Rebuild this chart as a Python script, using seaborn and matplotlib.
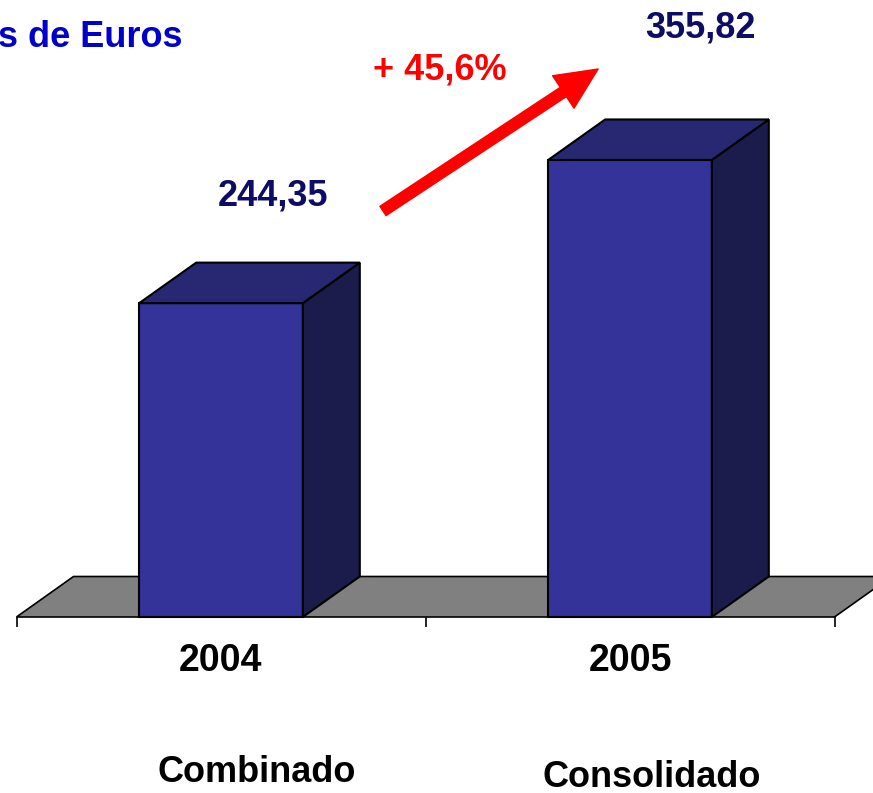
import matplotlib
matplotlib.use('Agg')
import matplotlib.pyplot as plt
import seaborn as sns
import pandas as pd
from matplotlib.patches import Polygon, FancyArrowPatch

# ---- data ----
categories = ['2004', '2005']
values = [244.35, 355.82]
value_labels = ['244,35', '355,82']
sublabels = ['Combinado', 'Consolidado']
growth_label = '+ 45,6%'
title_text = 's de Euros'

sns.set_theme(style='white')
plt.rcParams['font.family'] = ['Liberation Sans', 'DejaVu Sans']

W, H = 873, 793
fig = plt.figure(figsize=(W / 100, H / 100), dpi=100)
ax = fig.add_axes([0, 0, 1, 1])

df = pd.DataFrame({'year': categories, 'value': values})
sns.barplot(data=df, x='year', y='value', color='#333399', saturation=1,
            width=0.4, edgecolor='black', linewidth=1.5, ax=ax, zorder=3)

# pixel mapping: category spacing 409 px, category 0 centre at x=221, zero at y=617
px_per_cat = 409.0
px_per_unit = 1.2845
ax.set_xlim(-221 / px_per_cat, (W - 221) / px_per_cat)
ax.set_ylim((617 - H) / px_per_unit, 617 / px_per_unit)
ax.axis('off')

dx = 57 / px_per_cat
dy = 40.5 / px_per_unit

# floor
floor = Polygon([(-0.5, 0), (1.5, 0), (1.5 + dx, dy), (-0.5 + dx, dy)],
                closed=True, facecolor='#808080', edgecolor='black', lw=1.2, zorder=1)
ax.add_patch(floor)
# ticks
for t in [-0.5, 0.5, 1.5]:
    ax.plot([t, t], [0, -10 / px_per_unit], color='black', lw=1.2, zorder=2,
            solid_capstyle='butt')

# 3D faces for bars
for p in list(ax.patches):
    if p is floor:
        continue
    x0, w, h = p.get_x(), p.get_width(), p.get_height()
    side = Polygon([(x0 + w, 0), (x0 + w + dx, dy), (x0 + w + dx, h + dy), (x0 + w, h)],
                   closed=True, facecolor='#1c1c4c', edgecolor='black', lw=1.5, zorder=3)
    top = Polygon([(x0, h), (x0 + dx, h + dy), (x0 + w + dx, h + dy), (x0 + w, h)],
                  closed=True, facecolor='#272772', edgecolor='black', lw=1.5, zorder=3)
    ax.add_patch(side)
    ax.add_patch(top)

# value labels
val_dx = [0.127, 0.172]
val_dy = [83.4, 102.7]
for i, (v, lab) in enumerate(zip(values, value_labels)):
    ax.text(i + val_dx[i], v + val_dy[i], lab, ha='center', va='center',
            fontsize=26, fontweight='bold', color='#0d0d66', zorder=5)

# category labels
for i, c in enumerate(categories):
    ax.text(i, -34.5, c, ha='center', va='center', fontsize=27,
            fontweight='bold', color='black')

sub_dx = [0.088, 0.053]
sub_y = [-121.4, -124.6]
for i, s in enumerate(sublabels):
    ax.text(i + sub_dx[i], sub_y[i], s, ha='center', va='center', fontsize=26,
            fontweight='bold', color='black')

# title (visible part of the reference's title)
ax.text((183 - 221) / px_per_cat, (617 - 38) / px_per_unit, title_text,
        ha='right', va='center', fontsize=26, fontweight='bold', color='#0000cc')

# growth arrow and label
arrow = FancyArrowPatch((0.396, 316.1), (0.922, 426.6),
                        arrowstyle='simple,head_length=3.0,head_width=2.8,tail_width=0.8',
                        mutation_scale=10, color='#ff0000', shrinkA=0, shrinkB=0, zorder=6)
ax.add_patch(arrow)
ax.text(0.535, 425.8, growth_label, ha='center', va='center', fontsize=26,
        fontweight='bold', color='#ff0000', zorder=6)

fig.savefig('out.png', dpi=100)
